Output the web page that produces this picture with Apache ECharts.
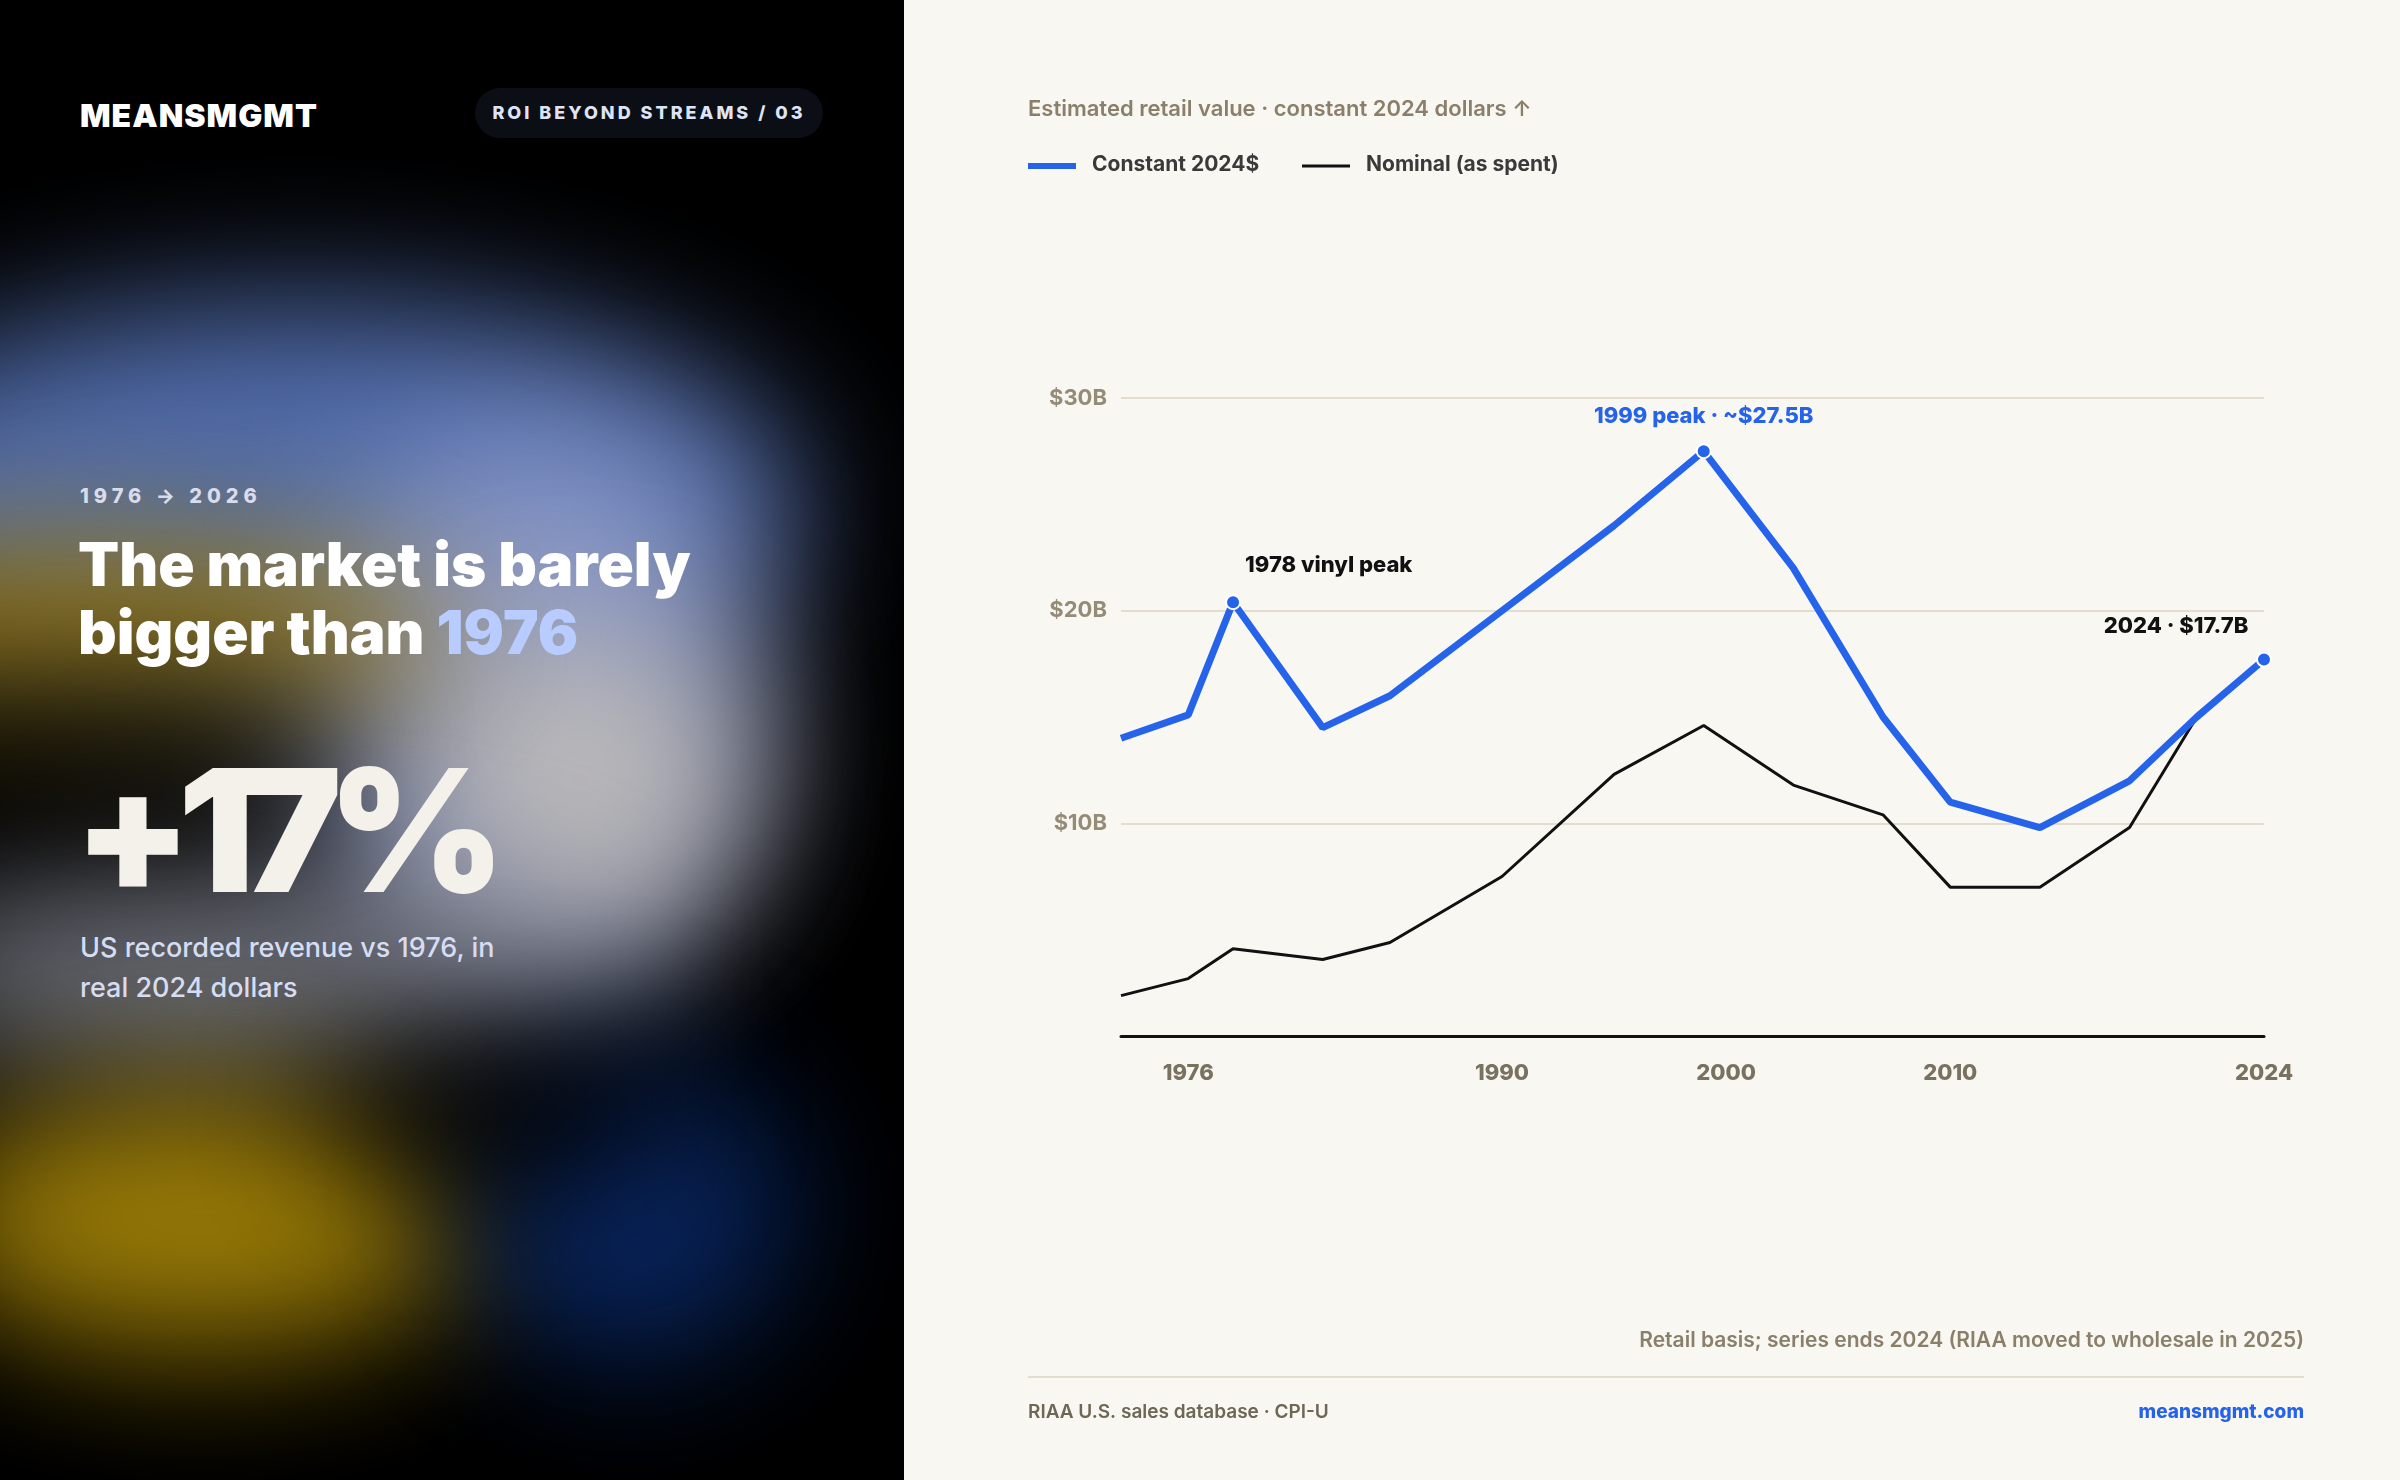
<!DOCTYPE html>
<html><head><meta charset="utf-8">
<script src="https://cdn.jsdelivr.net/npm/echarts@6/dist/echarts.min.js"></script>
<style>
body{margin:0;width:2400px;height:1480px;overflow:hidden;font-family:Inter,"Noto Sans",sans-serif;background:#f9f7f1}
#left{position:absolute;left:0;top:0;width:904px;height:1480px;background:#000;overflow:hidden}
.blob{position:absolute;border-radius:50%;filter:blur(70px)}
.t{position:absolute;white-space:nowrap}
#chart{position:absolute;left:905px;top:0;width:1495px;height:1480px}
</style></head><body>
<div id="left">
  <div class="blob" style="left:-200px;top:300px;width:1000px;height:400px;background:#5f7fc8;opacity:.85"></div>
  <div class="blob" style="left:300px;top:430px;width:470px;height:560px;background:#8f9cc9;opacity:.85"></div>
  <div class="blob" style="left:420px;top:620px;width:320px;height:320px;background:#c9c4bd;opacity:.8"></div>
  <div class="blob" style="left:-250px;top:540px;width:700px;height:180px;background:#a07c07;opacity:.9"></div>
  <div class="blob" style="left:-120px;top:860px;width:760px;height:220px;background:#8a8d99;opacity:.75"></div>
  <div class="blob" style="left:-80px;top:1090px;width:560px;height:260px;background:#a08008;opacity:.95"></div>
  <div class="blob" style="left:470px;top:1060px;width:320px;height:300px;background:#0a2a6a;opacity:.9"></div>
  <div class="blob" style="left:320px;top:1030px;width:360px;height:150px;background:#000;opacity:.9"></div>
  <div class="blob" style="left:-150px;top:680px;width:500px;height:120px;background:#000;opacity:.8"></div>
  <div class="t" style="left:80px;top:96px;font-size:32px;font-weight:900;color:#fff;letter-spacing:1px">MEANSMGMT</div>
  <div class="t" style="left:475px;top:88px;width:348px;height:50px;border-radius:25px;background:#0c0e16;color:#dfe4f5;font-size:18px;font-weight:800;letter-spacing:3px;line-height:50px;text-align:center">ROI BEYOND STREAMS / 03</div>
  <div class="t" style="left:80px;top:484px;font-size:20px;font-weight:800;color:#d9dcea;letter-spacing:5px">1976 → 2026</div>
  <div class="t" style="left:78px;top:530px;font-size:60px;font-weight:900;color:#fff;line-height:68px;letter-spacing:0px">The market is barely<br>bigger than <span style="color:#b8ccff">1976</span></div>
  <div class="t" style="left:74px;top:745px;font-size:170px;font-weight:900;color:#f4f0ea;letter-spacing:-14px;line-height:170px">+17%</div>
  <div class="t" style="left:80px;top:928px;font-size:27px;font-weight:500;color:#d6dcf2;line-height:40px">US recorded revenue vs 1976, in<br>real 2024 dollars</div>
</div>
<div id="chart"></div>
<script>
const years = [1973, 1976, 1978, 1982, 1985, 1990, 1995, 1999, 2003, 2007, 2010, 2014, 2018, 2021, 2024]
const constant2024 = [14.0, 15.1, 20.4, 14.5, 16.0, 20.0, 24.0, 27.5, 22.0, 15.0, 11.0, 9.8, 12.0, 15.0, 17.7]
const nominal = [1.9, 2.7, 4.1, 3.6, 4.4, 7.5, 12.3, 14.6, 11.8, 10.4, 7.0, 7.0, 9.8, 15.0, 17.7]
const xTicks = [1976, 1990, 2000, 2010, 2024]
const yTicks = [0, 10, 20, 30]
const notes = {1978: "1978 vinyl peak", 1999: "1999 peak · ~$27.5B", 2024: "2024 · $17.7B"}

const BLUE = "#2563eb", INK = "#111", MUTED = "#8a7f6a"
const blueData = years.map((y, i) => {
    let p = {value: [y, constant2024[i]]}
    if (notes[y]) {
        p.symbol = "circle"
        p.symbolSize = 14
        p.itemStyle = {color: BLUE, borderColor: "#fff", borderWidth: 2}
        p.label = {show: true, formatter: notes[y], fontSize: 22, fontWeight: 800, fontFamily: "Inter",
            color: y == 1999 ? BLUE : INK,
            position: y == 1978 ? [20, -40] : "top",
            distance: 16,
            offset: y == 2024 ? [-88, 2] : [0, 0]}
    }
    return p
})

const chart = echarts.init(document.getElementById("chart"))
chart.setOption({
    animation: false,
    graphic: [
        {type: "text", left: 123, top: 98, style: {text: "Estimated retail value · constant 2024 dollars ↑", fill: MUTED, font: "600 22px Inter"}},
        {type: "line", shape: {x1: 123, y1: 166, x2: 171, y2: 166}, style: {stroke: BLUE, lineWidth: 6}},
        {type: "text", left: 187, top: 154, style: {text: "Constant 2024$", fill: "#3a3a3a", font: "700 21px Inter"}},
        {type: "line", shape: {x1: 397, y1: 166, x2: 445, y2: 166}, style: {stroke: INK, lineWidth: 3}},
        {type: "text", left: 461, top: 154, style: {text: "Nominal (as spent)", fill: "#3a3a3a", font: "700 21px Inter"}},
        {type: "text", right: 96, top: 1330, style: {text: "Retail basis; series ends 2024 (RIAA moved to wholesale in 2025)", fill: MUTED, font: "600 21px Inter"}},
        {type: "line", shape: {x1: 123, y1: 1377, x2: 1399, y2: 1377}, style: {stroke: "#e2ddd1", lineWidth: 2}},
        {type: "text", left: 123, top: 1403, style: {text: "RIAA U.S. sales database · CPI-U", fill: "#6e6756", font: "600 19px Inter"}},
        {type: "text", right: 96, top: 1403, style: {text: "meansmgmt.com", fill: BLUE, font: "800 19px Inter"}}
    ],
    grid: {left: 216, right: 136, top: 398, bottom: 444},
    xAxis: {
        type: "value", min: 1973, max: 2024,
        axisLine: {show: true, onZero: true, lineStyle: {color: INK, width: 3}},
        axisTick: {show: false}, splitLine: {show: false},
        axisLabel: {customValues: xTicks, formatter: v => String(v), color: "#7a7260", fontSize: 22, fontWeight: 800, fontFamily: "Inter", margin: 26}
    },
    yAxis: {
        type: "value", min: 0, max: 30, interval: 10,
        axisLine: {show: false}, axisTick: {show: false},
        splitLine: {lineStyle: {color: "#e3ddd0", width: 2}},
        axisLabel: {formatter: v => yTicks.includes(v) && v > 0 ? "$" + v + "B" : "", color: "#958c78", fontSize: 22, fontWeight: 700, fontFamily: "Inter", margin: 14}
    },
    series: [
        {type: "line", data: years.map((y, i) => [y, nominal[i]]), symbol: "none", lineStyle: {color: INK, width: 3}, z: 2},
        {type: "line", data: blueData, showSymbol: true, symbol: "none", lineStyle: {color: BLUE, width: 7}, z: 3}
    ]
})
</script>
</body></html>
